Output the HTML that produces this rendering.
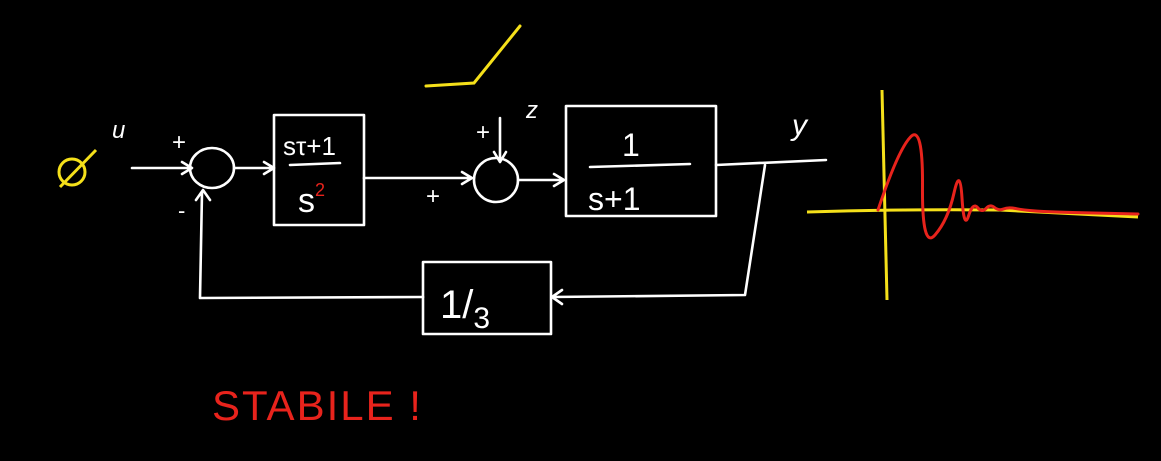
<!DOCTYPE html>
<html><head><meta charset="utf-8"><style>
html,body{margin:0;padding:0;background:#000;width:1161px;height:461px;overflow:hidden}
svg{display:block}
.w{stroke:#fff;stroke-width:2.6;fill:none;stroke-linecap:round;stroke-linejoin:round}
.t{fill:#fff;font-family:"Liberation Sans",sans-serif}
</style></head><body>
<svg width="1161" height="461" viewBox="0 0 1161 461">
<rect width="1161" height="461" fill="#000"/>
<g>
<circle cx="72" cy="172" r="13" stroke="#f5e01a" stroke-width="3" fill="none"/>
<line x1="60" y1="187" x2="96" y2="150" stroke="#f5e01a" stroke-width="3"/>
</g>
<text x="112" y="138" class="t" font-size="24" font-style="italic">u</text>
<path class="w" d="M132 168 L190 168 M182 162 L192 168 L182 174"/>
<text x="172" y="150" class="t" font-size="24">+</text>
<text x="178" y="218" class="t" font-size="22">-</text>
<ellipse cx="212" cy="168" rx="22" ry="20" class="w"/>
<path class="w" d="M234 168 L272 168 M264 162 L274 168 L264 174"/>
<rect x="274" y="115" width="90" height="110" class="w"/>
<text x="283" y="155" class="t" font-size="26">sτ+1</text>
<line x1="290" y1="165" x2="340" y2="163" class="w"/>
<text x="298" y="212" class="t" font-size="34">s<tspan fill="#e8231c" font-size="18" dy="-16">2</tspan></text>
<path class="w" d="M364 178 L470 178 M462 172 L472 178 L462 184"/>
<text x="426" y="204" class="t" font-size="24">+</text>
<ellipse cx="496" cy="180" rx="22" ry="22" class="w"/>
<path class="w" d="M500 118 L500 160 M494 152 L500 162 L506 152"/>
<text x="476" y="140" class="t" font-size="24">+</text>
<text x="526" y="118" class="t" font-size="24" font-style="italic">z</text>
<path class="w" d="M518 180 L562 180 M554 174 L564 180 L554 186"/>
<rect x="566" y="106" width="150" height="110" class="w"/>
<text x="622" y="156" class="t" font-size="32">1</text>
<line x1="590" y1="167" x2="690" y2="164" class="w"/>
<text x="588" y="210" class="t" font-size="32">s+1</text>
<path class="w" d="M716 165 L826 160"/>
<text x="792" y="135" class="t" font-size="30" font-style="italic">y</text>
<path class="w" d="M765 165 L745 295 L552 297 M562 290 L552 297 L562 304"/>
<rect x="423" y="262" width="128" height="72" class="w"/>
<text x="440" y="318" class="t" font-size="40">1/<tspan font-size="30" dy="10">3</tspan></text>
<path class="w" d="M423 297 L200 298 L202 192 M196 200 L203 190 L210 200"/>
<path d="M426 86 L474 83 L520 26" stroke="#f5e01a" stroke-width="3" fill="none" stroke-linecap="round"/>
<line x1="882" y1="90" x2="887" y2="300" stroke="#f5e01a" stroke-width="3"/>
<path d="M807 212 Q900 209 1000 210 Q1080 214 1138 217" stroke="#f5e01a" stroke-width="3" fill="none"/>
<path id="resp" stroke="#e8231c" stroke-width="3" fill="none" stroke-linejoin="round" stroke-linecap="round"/>
<text x="212" y="420" fill="#e8231c" font-family="Liberation Sans,sans-serif" font-size="42" letter-spacing="2">STABILE !</text>
</svg>
<script>
const times=[0,20,45,44,70,82,86,95,104,112,121,130,145,170,260];
const values=[0,60,86,-40,-10,44,-20,8,-3,6,-1,3,0,-2,-4];
const x0=878,y0=210;
function sx(t){return x0+t;}
function sy(v){return y0-v;}
const pts=times.map((t,i)=>[sx(t),sy(values[i])]);
let d='M'+pts[0][0]+' '+pts[0][1];
for(let i=1;i<pts.length-1;i++){
  const mx=(pts[i][0]+pts[i+1][0])/2,my=(pts[i][1]+pts[i+1][1])/2;
  d+=' Q'+pts[i][0]+' '+pts[i][1]+' '+mx+' '+my;
}
d+=' L'+pts[pts.length-1][0]+' '+pts[pts.length-1][1];
document.getElementById('resp').setAttribute('d',d);
</script>
</body></html>
